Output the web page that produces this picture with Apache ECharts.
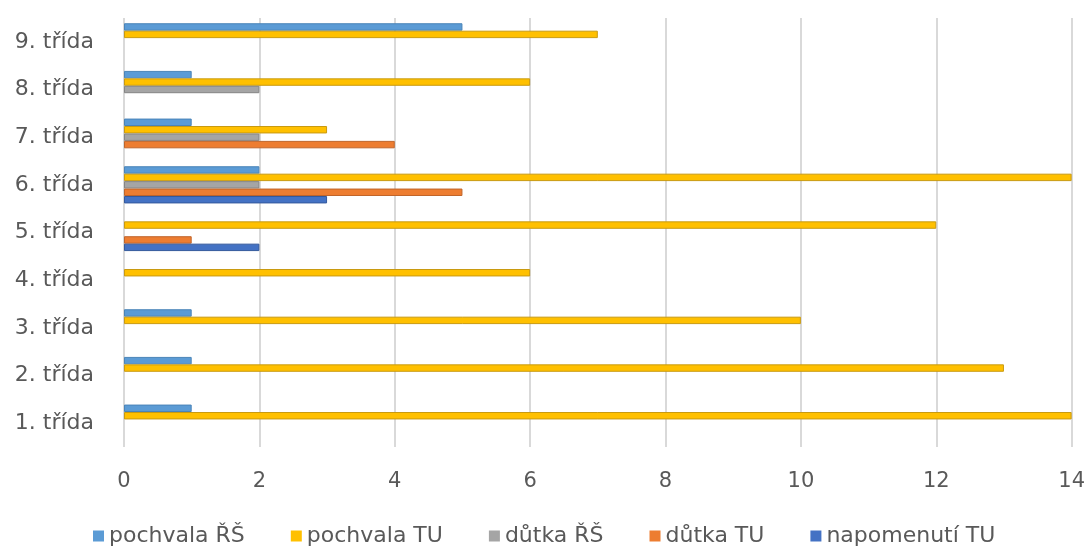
<!DOCTYPE html>
<html>
<head>
<meta charset="utf-8">
<script src="https://cdn.jsdelivr.net/npm/echarts@6/dist/echarts.min.js"></script>
<style>
  html, body { margin: 0; padding: 0; background: #fff; }
  #chart { width: 1088px; height: 552px; }
</style>
</head>
<body>
<div id="chart"></div>
<script>
// kategorie (třídy) odspodu nahoru
const tridy = ['1. třída', '2. třída', '3. třída', '4. třída', '5. třída', '6. třída', '7. třída', '8. třída', '9. třída']

// hodnoty jednotlivých řad (0 = bez sloupce)
const pochvalaRS = [1, 1, 1, 0, 0, 2, 1, 1, 5]
const pochvalaTU = [14, 13, 10, 6, 12, 14, 3, 6, 7]
const dutkaRS = [0, 0, 0, 0, 0, 2, 2, 2, 0]
const dutkaTU = [0, 0, 0, 0, 1, 5, 4, 0, 0]
const napomenutiTU = [0, 0, 0, 0, 2, 3, 0, 0, 0]

const xTicks = [0, 2, 4, 6, 8, 10, 12, 14]

const rady = [
  { name: 'pochvala ŘŠ', data: pochvalaRS, color: '#5B9BD5', border: '#4A84B8' },
  { name: 'pochvala TU', data: pochvalaTU, color: '#FFC000', border: '#C99A10' },
  { name: 'důtka ŘŠ', data: dutkaRS, color: '#A5A5A5', border: '#858585' },
  { name: 'důtka TU', data: dutkaTU, color: '#ED7D31', border: '#C0652A' },
  { name: 'napomenutí TU', data: napomenutiTU, color: '#4472C4', border: '#34599C' }
]

const textColor = '#595959'
const font = '"DejaVu Sans", "Noto Sans", sans-serif'

const chart = echarts.init(document.getElementById('chart'))

chart.setOption({
  backgroundColor: '#ffffff',
  animation: false,
  legend: {
    bottom: 0,
    left: 88,
    itemWidth: 11,
    itemHeight: 11,
    itemGap: 46,
    icon: 'rect',
    itemStyle: { borderWidth: 0 },
    data: rady.map(r => r.name),
    textStyle: { color: textColor, fontSize: 22, fontFamily: font }
  },
  grid: {
    left: 124,
    right: 12,
    top: 18,
    bottom: 105
  },
  xAxis: {
    type: 'value',
    min: xTicks[0],
    max: xTicks[xTicks.length - 1],
    interval: 2,
    axisLine: { show: false },
    axisTick: { show: false },
    axisLabel: { color: textColor, fontSize: 21, fontFamily: font, margin: 24 },
    splitLine: { lineStyle: { color: '#D9D9D9', width: 2 } }
  },
  yAxis: {
    type: 'category',
    data: tridy,
    axisLine: { show: false },
    axisTick: { show: false },
    axisLabel: { color: textColor, fontSize: 22, fontFamily: font, margin: 30, padding: [8, 0, 0, 0] }
  },
  // první řada je ve skupině nahoře (stejně jako v ECharts)
  series: rady.map(r => ({
    name: r.name,
    type: 'bar',
    data: r.data.map(v => (v === 0 ? null : v)),
    barGap: '0%',
    barCategoryGap: '22%',
    itemStyle: { color: r.color, borderColor: r.border, borderWidth: 1 }
  }))
})
</script>
</body>
</html>
